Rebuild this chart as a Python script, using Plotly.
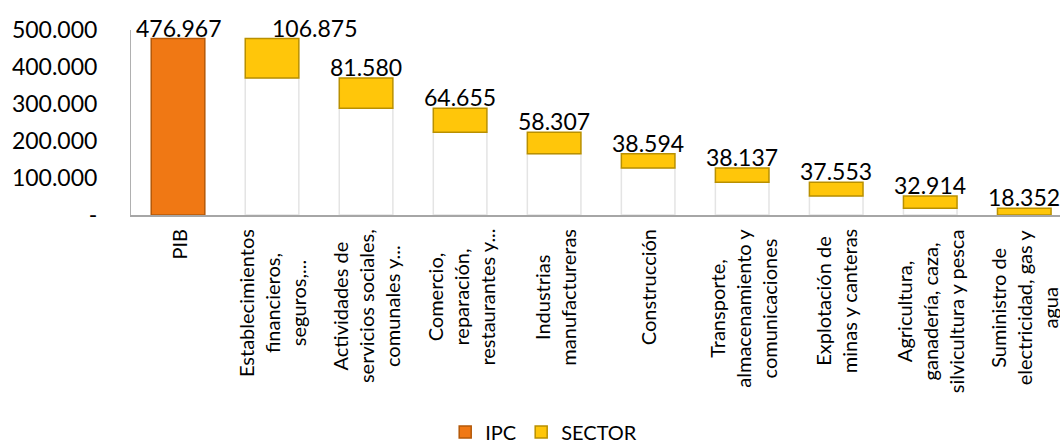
import plotly.graph_objects as go

# Participación por sector en el PIB (cascada)
categories = [
    "PIB",
    "Establecimientos<br>financieros,<br>seguros,...",
    "Actividades de<br>servicios sociales,<br>comunales y...",
    "Comercio,<br>reparación,<br>restaurantes y...",
    "Industrias<br>manufactureras",
    "Construcción",
    "Transporte,<br>almacenamiento y<br>comunicaciones",
    "Explotación de<br>minas y canteras",
    "Agricultura,<br>ganadería, caza,<br>silvicultura y pesca",
    "Suministro de<br>electricidad, gas y<br>agua",
]
pib_total = 476967
sector_values = [106875, 81580, 64655, 58307, 38594, 38137, 37553, 32914, 18352]

y_tick_values = [0, 100000, 200000, 300000, 400000, 500000]
y_tick_labels = ["-", "100.000", "200.000", "300.000", "400.000", "500.000"]

# each sector floats on the remainder of the total
bases = []
remaining = pib_total
for v in sector_values:
    remaining -= v
    bases.append(remaining)

FONT = "Lato"
sector_cats = categories[1:]

fig = go.Figure()

# white supporting columns under each sector block
fig.add_trace(go.Bar(
    x=sector_cats, y=bases, base=0,
    marker=dict(color="#ffffff", line=dict(color="#e4e4e4", width=1.5)),
    width=0.57, showlegend=False, hoverinfo="skip",
))
fig.add_trace(go.Bar(
    x=[categories[0]], y=[pib_total], name="IPC",
    marker=dict(color="#f07814", line=dict(color="#b45808", width=1.5)),
    width=0.57,
))
fig.add_trace(go.Bar(
    x=sector_cats, y=sector_values, base=bases, name="SECTOR",
    marker=dict(color="#ffc60a", line=dict(color="#b99000", width=1.5)),
    width=0.57,
))

def fmt(v):
    return f"{v:,}".replace(",", ".")

annotations = []
tops = [pib_total] + [b + v for b, v in zip(bases, sector_values)]
labels = [pib_total] + sector_values
for i, (cat, top, val) in enumerate(zip(categories, tops, labels)):
    annotations.append(dict(
        x=cat, y=top, xref="x", yref="y", text=fmt(val),
        showarrow=False, yanchor="bottom", xanchor="center",
        yshift=-5, xshift=42 if i == 1 else 0,
        font=dict(family=FONT, size=23, color="#000000"),
    ))
    annotations.append(dict(
        x=cat, y=0, xref="x", yref="paper", text=cat,
        showarrow=False, textangle=-90, align="center",
        yanchor="top", xanchor="center", yshift=-12,
        font=dict(family=FONT, size=20, color="#000000"),
    ))

fig.update_layout(
    width=1060, height=443,
    margin=dict(l=131, r=0, t=30, b=228),
    paper_bgcolor="#ffffff", plot_bgcolor="#ffffff",
    barmode="overlay",
    font=dict(family=FONT, color="#000000"),
    annotations=annotations,
    legend=dict(
        orientation="h", xref="container", yref="container",
        x=0.42, y=0.025, xanchor="left", yanchor="middle",
        font=dict(family=FONT, size=20, color="#000000"),
        itemwidth=30, traceorder="normal",
    ),
    xaxis=dict(
        type="category", categoryorder="array", categoryarray=categories,
        range=[-0.5, 9.38], showticklabels=False, showgrid=False,
        showline=True, linecolor="#a6a6a6", linewidth=1.5, zeroline=False,
    ),
    yaxis=dict(
        range=[0, 500000], tickvals=y_tick_values, ticktext=y_tick_labels,
        showgrid=False, zeroline=False, showline=True, linecolor="#b0b0b0",
        linewidth=1, ticks="", ticklabelstandoff=28,
        tickfont=dict(family=FONT, size=23, color="#000000"),
    ),
)

fig.write_html("out.html")
